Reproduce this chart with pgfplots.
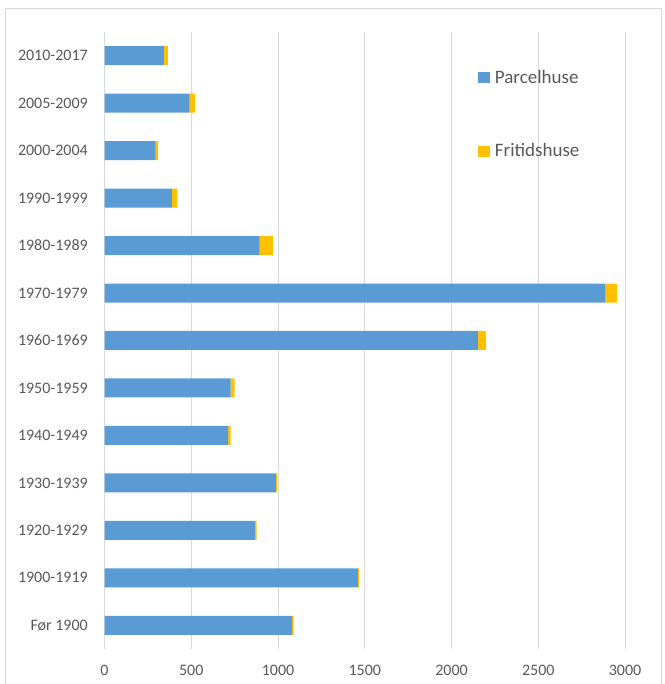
\documentclass[border=0pt]{standalone}
\usepackage{fontspec}
\setmainfont{Carlito}
\usepackage{pgfplots}
\pgfplotsset{compat=1.18}
\definecolor{parcel}{HTML}{5B9BD5}
\definecolor{fritid}{HTML}{FFC000}
\definecolor{txt}{HTML}{595959}
\definecolor{gridgray}{HTML}{D9D9D9}

\pgfplotstableread{
idx parcel fritid
0  1082  8
1  1460  7
2  869   8
3  988   7
4  712   15
5  727   23
6  2152  46
7  2886  68
8  894   78
9  388   32
10 294   15
11 491   31
12 342   23
}\boligdata

\begin{document}
\begin{tikzpicture}[x=1pt,y=1pt]
\useasboundingbox (0,0) rectangle (664,684);
\draw[draw=gridgray, line width=1pt] (5.5,-10) rectangle (661.5,675.5);
\begin{axis}[
    at={(104.5pt,35pt)}, anchor=south west,
    scale only axis,
    width=520.5pt, height=617pt,
    xbar stacked, bar width=19pt,
    xmin=0, xmax=3000,
    ymin=-0.5, ymax=12.5,
    xtick={0,500,...,3000},
    ytick={0,...,12},
    yticklabels={Før 1900,1900-1919,1920-1929,1930-1939,1940-1949,1950-1959,1960-1969,1970-1979,1980-1989,1990-1999,2000-2004,2005-2009,2010-2017},
    /pgf/number format/1000 sep={},
    /pgf/number format/assume math mode=true,
    axis line style={draw=none},
    major tick length=0pt,
    xmajorgrids, ymajorgrids=false,
    x grid style={draw=gridgray, line width=1pt},
    tick label style={font=\fontsize{16}{19}\selectfont, text=txt, inner sep=0pt},
    xticklabel style={anchor=center, yshift=-21pt},
    yticklabel style={anchor=east, xshift=-16.5pt},
    legend style={at={(0.7105,0.9417)}, anchor=north west, draw=none, fill=none,
        font=\fontsize{19}{22}\selectfont, text=txt,
        row sep=56.7pt, column sep=5.4pt,
        nodes={inner sep=0pt, text height=13pt, text depth=4pt}},
    legend cell align=left,
    legend image code/.code={\fill[#1] (0pt,-4.5pt) rectangle (12pt,6.5pt);},
]
\addplot[fill=parcel, draw=none] table[x=parcel, y=idx] {\boligdata};
\addlegendentry{Parcelhuse}
\addplot[fill=fritid, draw=none] table[x=fritid, y=idx] {\boligdata};
\addlegendentry{Fritidshuse}
\end{axis}
\end{tikzpicture}
\end{document}
